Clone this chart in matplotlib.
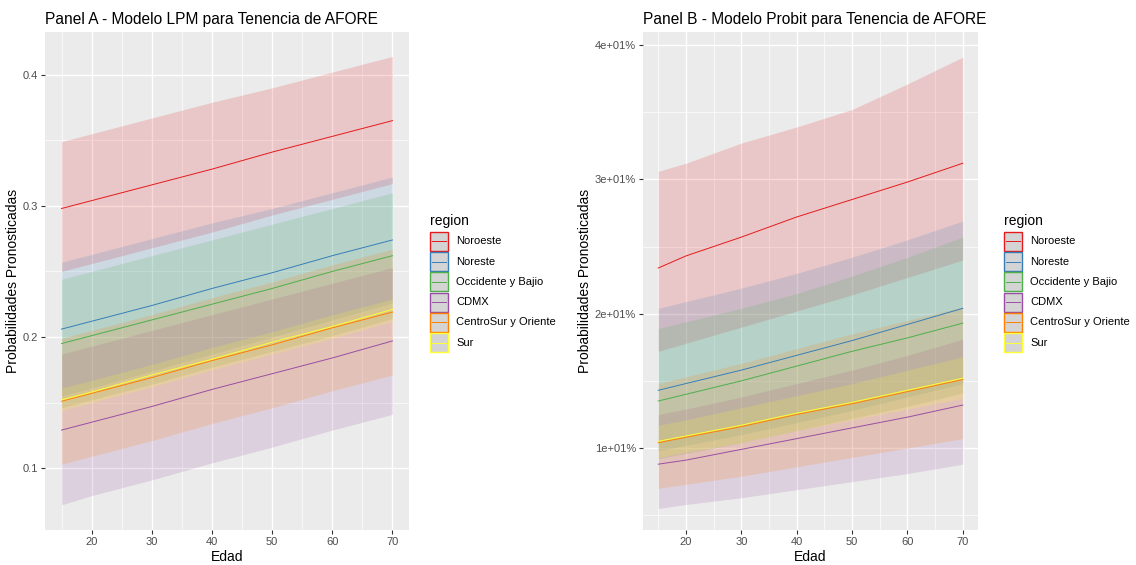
import matplotlib
matplotlib.use("Agg")
import matplotlib.pyplot as plt
from matplotlib.patches import Rectangle
from matplotlib.lines import Line2D

plt.rcParams["font.family"] = ["Liberation Sans", "DejaVu Sans"]

regions = ["Noroeste", "Noreste", "Occidente y Bajio", "CDMX",
           "CentroSur y Oriente", "Sur"]
colors = ["#E41A1C", "#377EB8", "#4DAF4A", "#984EA3", "#FF7F00", "#FFFF33"]

ages = [15, 20, 30, 40, 50, 60, 70]

# Panel A: linear probability model predictions and confidence bands
lpm_fit = {
    "Noroeste":            [0.298, 0.304, 0.316, 0.328, 0.341, 0.353, 0.365],
    "Noreste":             [0.206, 0.212, 0.224, 0.237, 0.249, 0.262, 0.274],
    "Occidente y Bajio":   [0.195, 0.201, 0.213, 0.225, 0.237, 0.250, 0.262],
    "CDMX":                [0.129, 0.135, 0.147, 0.160, 0.172, 0.184, 0.197],
    "CentroSur y Oriente": [0.151, 0.157, 0.169, 0.182, 0.194, 0.207, 0.219],
    "Sur":                 [0.152, 0.158, 0.171, 0.183, 0.196, 0.208, 0.221],
}
lpm_lo = {
    "Noroeste":            [0.250, 0.256, 0.268, 0.280, 0.293, 0.305, 0.317],
    "Noreste":             [0.155, 0.161, 0.174, 0.187, 0.200, 0.213, 0.226],
    "Occidente y Bajio":   [0.146, 0.152, 0.164, 0.177, 0.189, 0.201, 0.214],
    "CDMX":                [0.072, 0.079, 0.091, 0.104, 0.116, 0.129, 0.141],
    "CentroSur y Oriente": [0.103, 0.109, 0.121, 0.134, 0.146, 0.159, 0.171],
    "Sur":                 [0.144, 0.150, 0.162, 0.175, 0.187, 0.199, 0.212],
}
lpm_hi = {
    "Noroeste":            [0.349, 0.355, 0.367, 0.379, 0.390, 0.402, 0.414],
    "Noreste":             [0.257, 0.263, 0.275, 0.287, 0.298, 0.310, 0.322],
    "Occidente y Bajio":   [0.244, 0.250, 0.262, 0.274, 0.286, 0.298, 0.310],
    "CDMX":                [0.187, 0.193, 0.205, 0.217, 0.229, 0.241, 0.253],
    "CentroSur y Oriente": [0.199, 0.205, 0.217, 0.230, 0.242, 0.255, 0.267],
    "Sur":                 [0.161, 0.167, 0.179, 0.192, 0.204, 0.217, 0.229],
}

# Panel B: probit model predictions and confidence bands
probit_fit = {
    "Noroeste":            [0.234, 0.243, 0.257, 0.272, 0.285, 0.298, 0.312],
    "Noreste":             [0.143, 0.148, 0.158, 0.169, 0.180, 0.192, 0.204],
    "Occidente y Bajio":   [0.135, 0.140, 0.150, 0.161, 0.172, 0.182, 0.193],
    "CDMX":                [0.088, 0.091, 0.099, 0.107, 0.115, 0.123, 0.132],
    "CentroSur y Oriente": [0.104, 0.108, 0.116, 0.125, 0.133, 0.142, 0.151],
    "Sur":                 [0.105, 0.109, 0.117, 0.126, 0.134, 0.143, 0.152],
}
probit_lo = {
    "Noroeste":            [0.172, 0.178, 0.190, 0.202, 0.214, 0.227, 0.240],
    "Noreste":             [0.098, 0.102, 0.110, 0.119, 0.128, 0.138, 0.148],
    "Occidente y Bajio":   [0.092, 0.096, 0.104, 0.113, 0.122, 0.131, 0.141],
    "CDMX":                [0.055, 0.058, 0.063, 0.069, 0.075, 0.081, 0.088],
    "CentroSur y Oriente": [0.070, 0.073, 0.079, 0.086, 0.093, 0.100, 0.107],
    "Sur":                 [0.093, 0.097, 0.104, 0.113, 0.121, 0.129, 0.137],
}
probit_hi = {
    "Noroeste":            [0.306, 0.312, 0.327, 0.339, 0.352, 0.371, 0.391],
    "Noreste":             [0.204, 0.209, 0.219, 0.230, 0.242, 0.255, 0.269],
    "Occidente y Bajio":   [0.189, 0.194, 0.204, 0.215, 0.228, 0.242, 0.257],
    "CDMX":                [0.125, 0.129, 0.138, 0.148, 0.158, 0.169, 0.181],
    "CentroSur y Oriente": [0.148, 0.153, 0.163, 0.174, 0.185, 0.195, 0.205],
    "Sur":                 [0.117, 0.121, 0.130, 0.139, 0.148, 0.158, 0.168],
}

x_major = [20, 30, 40, 50, 60, 70]
x_minor = [15, 25, 35, 45, 55, 65]
y_major = [0.1, 0.2, 0.3, 0.4]
lpm_ylabels = ["0.1", "0.2", "0.3", "0.4"]
probit_ylabels = ["1e+01%", "2e+01%", "3e+01%", "4e+01%"]

W, H = 1136, 565
fig = plt.figure(figsize=(W / 100, H / 100), dpi=100)
fig.patch.set_facecolor("white")


def px_box(left, top, right, bottom):
    return [left / W, 1 - bottom / H, (right - left) / W, (bottom - top) / H]


def style_axes(ax, ylim, y_minor, ylabels, title):
    ax.set_facecolor("#EBEBEB")
    for s in ax.spines.values():
        s.set_visible(False)
    ax.set_xlim(12.25, 72.75)
    ax.set_ylim(*ylim)
    ax.set_xticks(x_major)
    ax.set_xticks(x_minor, minor=True)
    ax.set_yticks(y_major)
    ax.set_yticks(y_minor, minor=True)
    ax.set_yticklabels(ylabels)
    ax.grid(True, which="major", color="white", lw=1.0, zorder=0)
    ax.grid(True, which="minor", color="white", lw=0.5, zorder=0)
    ax.set_axisbelow(True)
    ax.tick_params(which="major", length=3, width=0.8, color="#333333",
                   labelcolor="#4D4D4D", labelsize=8, pad=2)
    ax.tick_params(which="minor", length=0)
    ax.set_xlabel("Edad", fontsize=10, color="black", labelpad=2)
    ax.set_ylabel("Probabilidades Pronosticadas", fontsize=10, color="black",
                  labelpad=2)
    ax.set_title(title, loc="left", fontsize=11.2, color="black", pad=6)


def draw_panel(ax, fit, lo, hi):
    for reg, col in zip(regions, colors):
        ax.fill_between(ages, lo[reg], hi[reg], color=col, alpha=0.17, lw=0,
                        zorder=2)
    for reg, col in zip(regions, colors):
        ax.plot(ages, fit[reg], color=col, lw=0.7, zorder=3)


def draw_legend(x0, y_title):
    fig.text(x0 / W, 1 - y_title / H, "region", fontsize=10, va="center",
             ha="left")
    key_w, key_h = 18, 19
    for i, (reg, col) in enumerate(zip(regions, colors)):
        top = y_title + 11 + i * 20.2
        fig.add_artist(Rectangle((x0 / W, 1 - (top + key_h) / H), key_w / W,
                                 key_h / H, transform=fig.transFigure,
                                 facecolor="#D4D4D4", edgecolor=col, lw=1.0))
        cy = 1 - (top + key_h / 2) / H
        fig.add_artist(Line2D([(x0 + 2) / W, (x0 + key_w - 2) / W], [cy, cy],
                              transform=fig.transFigure, color=col, lw=0.7))
        fig.text((x0 + key_w + 8) / W, cy, reg, fontsize=8, va="center",
                 ha="left", color="black")


axA = fig.add_axes(px_box(45, 32, 409, 530))
draw_panel(axA, lpm_fit, lpm_lo, lpm_hi)
style_axes(axA, (0.0528, 0.4326), [0.15, 0.25, 0.35],
           lpm_ylabels, "Panel A - Modelo LPM para Tenencia de AFORE")

axB = fig.add_axes(px_box(643, 32, 978, 530))
draw_panel(axB, probit_fit, probit_lo, probit_hi)
style_axes(axB, (0.039, 0.4097), [0.05, 0.15, 0.25, 0.35],
           probit_ylabels, "Panel B - Modelo Probit para Tenencia de AFORE")

draw_legend(430, 221)
draw_legend(1004, 221)

fig.savefig("out.png", dpi=100)
